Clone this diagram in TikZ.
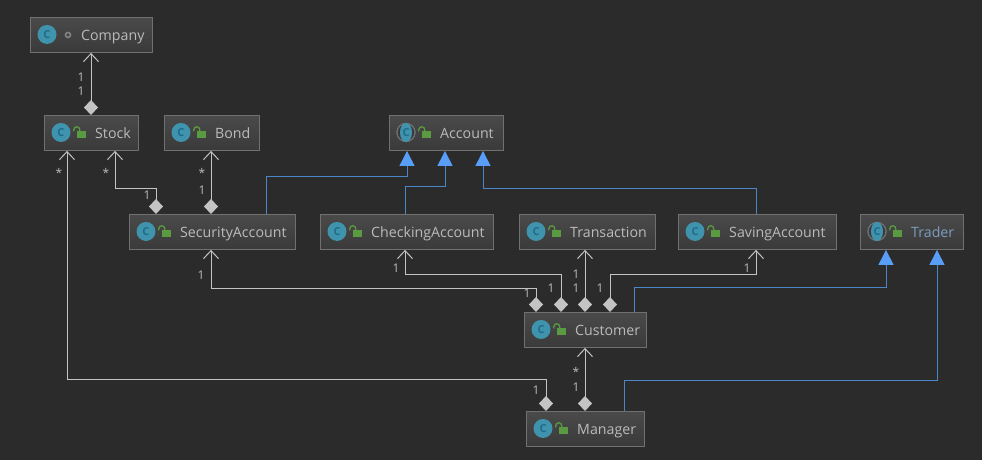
\documentclass[tikz,border=0pt]{standalone}
\usepackage{fontspec}
\setmainfont{Open Sans}
\usetikzlibrary{arrows.meta,shapes.geometric}
\definecolor{bgdark}{HTML}{2B2B2B}
\definecolor{boxline}{HTML}{707070}
\definecolor{boxtop}{HTML}{4A4A4A}
\definecolor{boxbot}{HTML}{3A3A3A}
\definecolor{labelgray}{HTML}{BBBBBB}
\definecolor{linegray}{HTML}{C4C4C4}
\definecolor{iconteal}{HTML}{3F93AD}
\definecolor{iconc}{HTML}{1F6C8C}
\definecolor{lockgreen}{HTML}{5A9A40}
\definecolor{inheritblue}{HTML}{4A86C8}
\definecolor{tipblue}{HTML}{589DF6}
\definecolor{traderblue}{HTML}{7C9CC0}
\tikzset{
  classbox/.style={draw=boxline,line width=0.9pt,top color=boxtop,bottom color=boxbot,minimum height=35pt,inner sep=0pt,anchor=north west},
  classname/.style={anchor=west,inner sep=0pt,font=\fontsize{14.2}{16}\selectfont,text height=11pt,text depth=3pt},
  classicon/.style={circle,fill=iconteal,minimum size=19pt,inner sep=0pt,text=iconc,font=\fontsize{11}{12}\selectfont\bfseries},
  abstracticon/.style={circle,draw=labelgray!60!black,fill=boxbot,line width=1.2pt,minimum size=18pt,inner sep=0pt},
  abstractcore/.style={ellipse,fill=iconteal,minimum width=12pt,minimum height=19pt,inner sep=0pt,text=iconc,font=\fontsize{11}{12}\selectfont\bfseries},
  lockbody/.style={fill=lockgreen,minimum width=9pt,minimum height=7pt,inner sep=0pt},
  lockarc/.style={draw=lockgreen,line width=1.3pt},
  mult/.style={text=labelgray,inner sep=0pt,font=\fontsize{12}{13}\selectfont},
  assoc/.style={draw=linegray,line width=1pt,{Diamond[fill=linegray,length=15pt,width=14pt]}-{Straight Barb[length=8pt,width=15pt,color=linegray]}},
  inherit/.style={draw=inheritblue,line width=1pt,-{Triangle[fill=tipblue,color=tipblue,length=15pt,width=15pt]}},
}
\begin{document}
\begin{tikzpicture}[x=1pt,y=-1pt]
\fill[bgdark] (0,0) rectangle (982,460);

% Classes
\foreach \n/\x/\y/\w/\l/\c in {company/30/17/122/Company/labelgray,stock/44/115/94/Stock/labelgray,bond/164/115/95/Bond/labelgray,security/129/214/166/SecurityAccount/labelgray,account/389/115/114/Account/labelgray,checking/320/214/173/CheckingAccount/labelgray,transaction/519/214/136/Transaction/labelgray,saving/678/214/158/SavingAccount/labelgray,trader/860/214/103/Trader/traderblue,customer/524/312/122/Customer/labelgray,manager/526/411/118/Manager/labelgray}
{
  \node[classbox,minimum width=\w pt] (\n) at (\x,\y) {};
  \node[classname,text=\c] (\n-name) at ([xshift=51pt,yshift=-1.8pt]\n.west) {\l};
  \node[classicon] (\n-icon) at ([xshift=17pt,yshift=0.5pt]\n.west) {C};
}

% Locks
\foreach \n in {stock,bond,security,account,checking,transaction,saving,trader,customer,manager}
{
  \node[lockbody] (\n-lock) at ([xshift=37.5pt,yshift=-2pt]\n.west) {};
  \draw[lockarc] ([xshift=3pt]\n-lock.north west) -- ++(0,-1.5) arc (0:-180:3) -- ++(0,1.5);
}
\node[circle,draw=labelgray!70!black,line width=1.6pt,minimum size=5pt,inner sep=0pt] (company-dot) at ([xshift=38pt]company.west) {};

% Abstract icons
\foreach \n in {account,trader}
{
  \node[abstracticon] (\n-ring) at (\n-icon) {};
  \node[abstractcore] (\n-core) at (\n-icon) {C};
}

% Associations
\draw[assoc] ([xshift=47pt]stock.north west) -- ([xshift=61pt]company.south west);
\draw[assoc] ([xshift=27pt]security.north west) -- ++(0,-26) -| ([xshift=71pt]stock.south west);
\draw[assoc] ([xshift=82pt]security.north west) -- ([xshift=47pt]bond.south west);
\draw[assoc] ([xshift=20pt]manager.north west) -- ++(0,-32) -| ([xshift=23pt]stock.south west);
\draw[assoc] ([xshift=59pt]manager.north west) -- ([xshift=61pt]customer.south west);
\draw[assoc] ([xshift=12pt]customer.north west) -- ++(0,-24) -| ([xshift=82pt]security.south west);
\draw[assoc] ([xshift=37pt]customer.north west) -- ++(0,-38) -| ([xshift=85pt]checking.south west);
\draw[assoc] ([xshift=61pt]customer.north west) -- ([xshift=66pt]transaction.south west);
\draw[assoc] ([xshift=86pt]customer.north west) -- ++(0,-38) -| ([xshift=78pt]saving.south west);

% Inheritance
\draw[inherit] ([xshift=137pt]security.north west) -- ++(0,-38) -| ([xshift=18pt]account.south west);
\draw[inherit] ([xshift=85pt]checking.north west) -- ++(0,-28) -| ([xshift=56pt]account.south west);
\draw[inherit] ([xshift=78pt]saving.north west) -- ++(0,-26) -| ([xshift=94pt]account.south west);
\draw[inherit] ([xshift=110pt]customer.north west) -- ++(0,-25) -| ([xshift=26pt]trader.south west);
\draw[inherit] ([xshift=98pt]manager.north west) -- ++(0,-31) -| ([xshift=77pt]trader.south west);

% Multiplicities
\foreach \i/\x/\y/\l in {a/81/77/1,b/81/91/1,c/59/173/*,d/106/173/*,e/147/195/1,f/202/173/*,g/202/190/1,h/201/275/1,i/396/268/1,j/527/293/1,k/551/288/1,l/576/274/1,m/576/288/1,n/600/288/1,o/747/268/1,p/576/372/*,q/576/387/1,r/536/390/1}
  \node[mult] (mult-\i) at (\x,\y) {\l};
\end{tikzpicture}
\end{document}
